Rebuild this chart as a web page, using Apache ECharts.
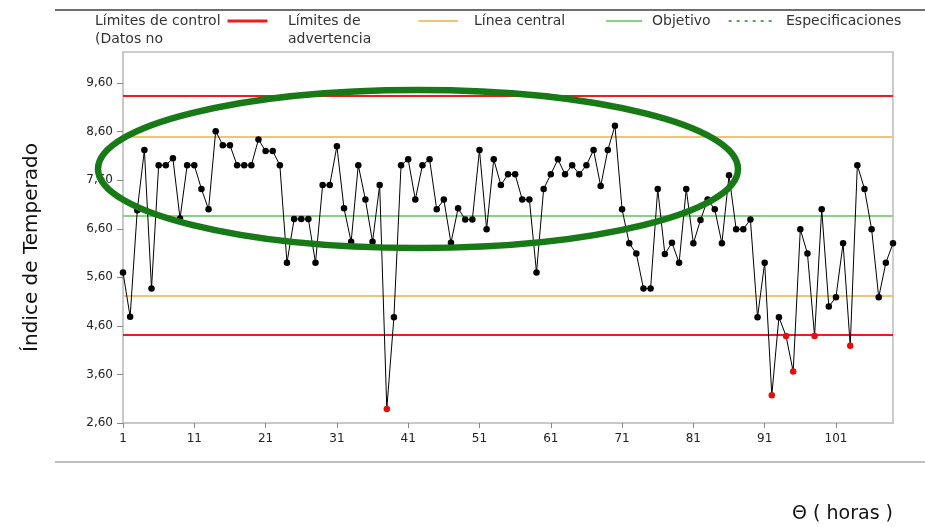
<!DOCTYPE html>
<html>
<head>
<meta charset="utf-8">
<script src="https://cdn.jsdelivr.net/npm/echarts@6/dist/echarts.min.js"></script>
<style>
  html, body { margin: 0; padding: 0; background: #ffffff; }
  #chart { width: 925px; height: 527px; }
</style>
</head>
<body>
<div id="chart"></div>
<script>
// ---- data ----
const categories = Array.from({ length: 109 }, (_, i) => String(i + 1));
const values = [
  5.70, 4.79, 6.98, 8.22, 5.37, 7.91, 7.91, 8.05, 6.81, 7.91,
  7.91, 7.42, 7.00, 8.61, 8.32, 8.32, 7.91, 7.91, 7.91, 8.44,
  8.20, 8.20, 7.91, 5.90, 6.80, 6.80, 6.80, 5.90, 7.50, 7.50,
  8.30, 7.02, 6.33, 7.91, 7.20, 6.33, 7.50, 2.89, 4.78, 7.91,
  8.03, 7.20, 7.91, 8.03, 7.00, 7.20, 6.31, 7.02, 6.79, 6.79,
  8.22, 6.59, 8.03, 7.50, 7.72, 7.72, 7.20, 7.20, 5.70, 7.42,
  7.72, 8.03, 7.72, 7.91, 7.72, 7.91, 8.22, 7.48, 8.22, 8.72,
  7.00, 6.30, 6.09, 5.37, 5.37, 7.42, 6.08, 6.31, 5.90, 7.42,
  6.30, 6.78, 7.20, 7.00, 6.30, 7.70, 6.59, 6.59, 6.79, 4.78,
  5.90, 3.17, 4.78, 4.39, 3.66, 6.59, 6.09, 4.39, 7.00, 5.00,
  5.19, 6.30, 4.19, 7.91, 7.42, 6.59, 5.19, 5.90, 6.30
];
const controlLimits = [9.33, 4.41];   // Límites de control
const warningLimits = [8.49, 5.22];   // Límites de advertencia
const centralLine = [6.87];           // Línea central
const yMin = 2.6, yMax = 10.24, yStep = 1;

const legendNames = [
  'Límites de control\n(Datos no',
  'Límites de\nadvertencia',
  'Línea central',
  'Objetivo',
  'Especificaciones'
];
const yTitle = 'Índice de Temperado';
const xTitle = 'Θ ( horas )';

// ---- styles ----
const RED = '#f01c1c', ORANGE = '#f3c27a', GREEN = '#8ad08a', DOTGREEN = '#4caf50';
const FONT = 'DejaVu Sans';
const BAR40x3 = 'path://M0,0L40,0L40,3L0,3Z';
const BAR40x2 = 'path://M0,0L40,0L40,2L0,2Z';
const BAR36x2 = 'path://M0,0L36,0L36,2L0,2Z';
const DOTS = 'path://M0,0h3v2h-3zM8,0h3v2h-3zM16,0h3v2h-3zM24,0h3v2h-3zM32,0h3v2h-3zM40,0h3v2h-3z';

function limitSeries(name, color, vals, width) {
  return {
    name: name, type: 'line', data: [], symbol: 'none',
    lineStyle: { color: color, width: width },
    itemStyle: { color: color },
    z: 1,
    markLine: {
      silent: true, symbol: 'none', animation: false,
      label: { show: false },
      lineStyle: { color: color, width: width, type: 'solid' },
      data: vals.map(v => ({ yAxis: v }))
    }
  };
}

function legendAt(name, left, top, padRight, twoLine, icon, iw, ih) {
  return {
    data: [{ name: name, icon: icon }], left: left, top: top, padding: 0,
    align: 'right', orient: 'horizontal', selectedMode: false,
    itemWidth: iw, itemHeight: ih,
    formatter: n => n.split('\n').map(s => '{a|' + s + '}').join('\n'),
    textStyle: {
      fontFamily: FONT, fontSize: 14, color: '#333', lineHeight: 18,
      padding: twoLine ? [18, padRight, 0, 0] : [0, padRight, 0, 0],
      rich: { a: { align: 'left', fontFamily: FONT, fontSize: 14, color: '#333', lineHeight: 18 } }
    }
  };
}

const chart = echarts.init(document.getElementById('chart'), null, { renderer: 'canvas' });
chart.setOption({
  animation: false,
  backgroundColor: '#ffffff',
  grid: {
    left: 123, right: 32, top: 52, bottom: 104,
    show: true, borderColor: '#cccccc', borderWidth: 2, backgroundColor: 'transparent'
  },
  legend: [
    legendAt(legendNames[0], 95, -6, 2, true, BAR40x3, 40, 3),
    legendAt(legendNames[1], 288, -6, 42, true, BAR40x2, 40, 2),
    legendAt(legendNames[2], 474, 12, 36, false, BAR36x2, 36, 2),
    legendAt(legendNames[3], 652, 12, 13, false, DOTS, 43, 2),
    legendAt(legendNames[4], 786, 12, 0, false, 'none', 0, 2)
  ],
  xAxis: {
    type: 'category', data: categories, boundaryGap: false,
    axisLine: { lineStyle: { color: '#c8c8c8', width: 2 } },
    axisTick: { show: true, interval: 9, length: 5, lineStyle: { color: '#888' } },
    axisLabel: { interval: 9, fontFamily: FONT, fontSize: 12, color: '#222', margin: 10 },
    splitLine: { show: false },
    name: xTitle, nameLocation: 'end', nameGap: 0,
    nameTextStyle: { fontFamily: FONT, fontSize: 19, color: '#111', align: 'right', verticalAlign: 'top', padding: [82, 0, 0, 0] }
  },
  yAxis: {
    type: 'value', min: yMin, max: yMax, interval: yStep,
    axisLine: { show: true, lineStyle: { color: '#c8c8c8', width: 2 } },
    axisTick: { show: true, length: 6, lineStyle: { color: '#888' } },
    axisLabel: {
      fontFamily: FONT, fontSize: 12, color: '#222', margin: 10, showMaxLabel: false,
      formatter: v => v.toFixed(2).replace('.', ',')
    },
    splitLine: { show: false },
    name: yTitle, nameLocation: 'middle', nameGap: 81, nameRotate: 90,
    nameTextStyle: { fontFamily: FONT, fontSize: 20, color: '#111', padding: [0, 20, 0, 0] }
  },
  series: [
    limitSeries(legendNames[0], RED, controlLimits, 2),
    limitSeries(legendNames[1], ORANGE, warningLimits, 2),
    limitSeries(legendNames[2], GREEN, centralLine, 2),
    { name: legendNames[3], type: 'line', data: [], symbol: 'none',
      lineStyle: { color: DOTGREEN, width: 2, type: 'dotted' }, itemStyle: { color: DOTGREEN } },
    { name: legendNames[4], type: 'line', data: [], symbol: 'none',
      lineStyle: { color: '#999', width: 0, opacity: 0 }, itemStyle: { color: '#999', opacity: 0 } },
    {
      name: 'Datos', type: 'line', data: values, z: 5,
      symbol: 'circle', symbolSize: 6.5, showSymbol: true, showAllSymbol: true,
      lineStyle: { color: '#000', width: 1 },
      itemStyle: {
        color: p => (p.value < controlLimits[1] ? '#e01010' : '#000000'),
        borderWidth: 0
      },
      emphasis: { disabled: true }
    }
  ],
  graphic: [
    { type: 'line', silent: true, shape: { x1: 55, y1: 10, x2: 925, y2: 10 },
      style: { stroke: '#6e6e6e', lineWidth: 2 } },
    { type: 'line', silent: true, shape: { x1: 55, y1: 462, x2: 925, y2: 462 },
      style: { stroke: '#a8a8a8', lineWidth: 1.5 } },
    { type: 'ellipse', silent: true, z: 100,
      shape: { cx: 418, cy: 169, rx: 320, ry: 79 },
      style: { fill: 'none', stroke: '#177a17', lineWidth: 6.5 } }
  ]
});
</script>
</body>
</html>
